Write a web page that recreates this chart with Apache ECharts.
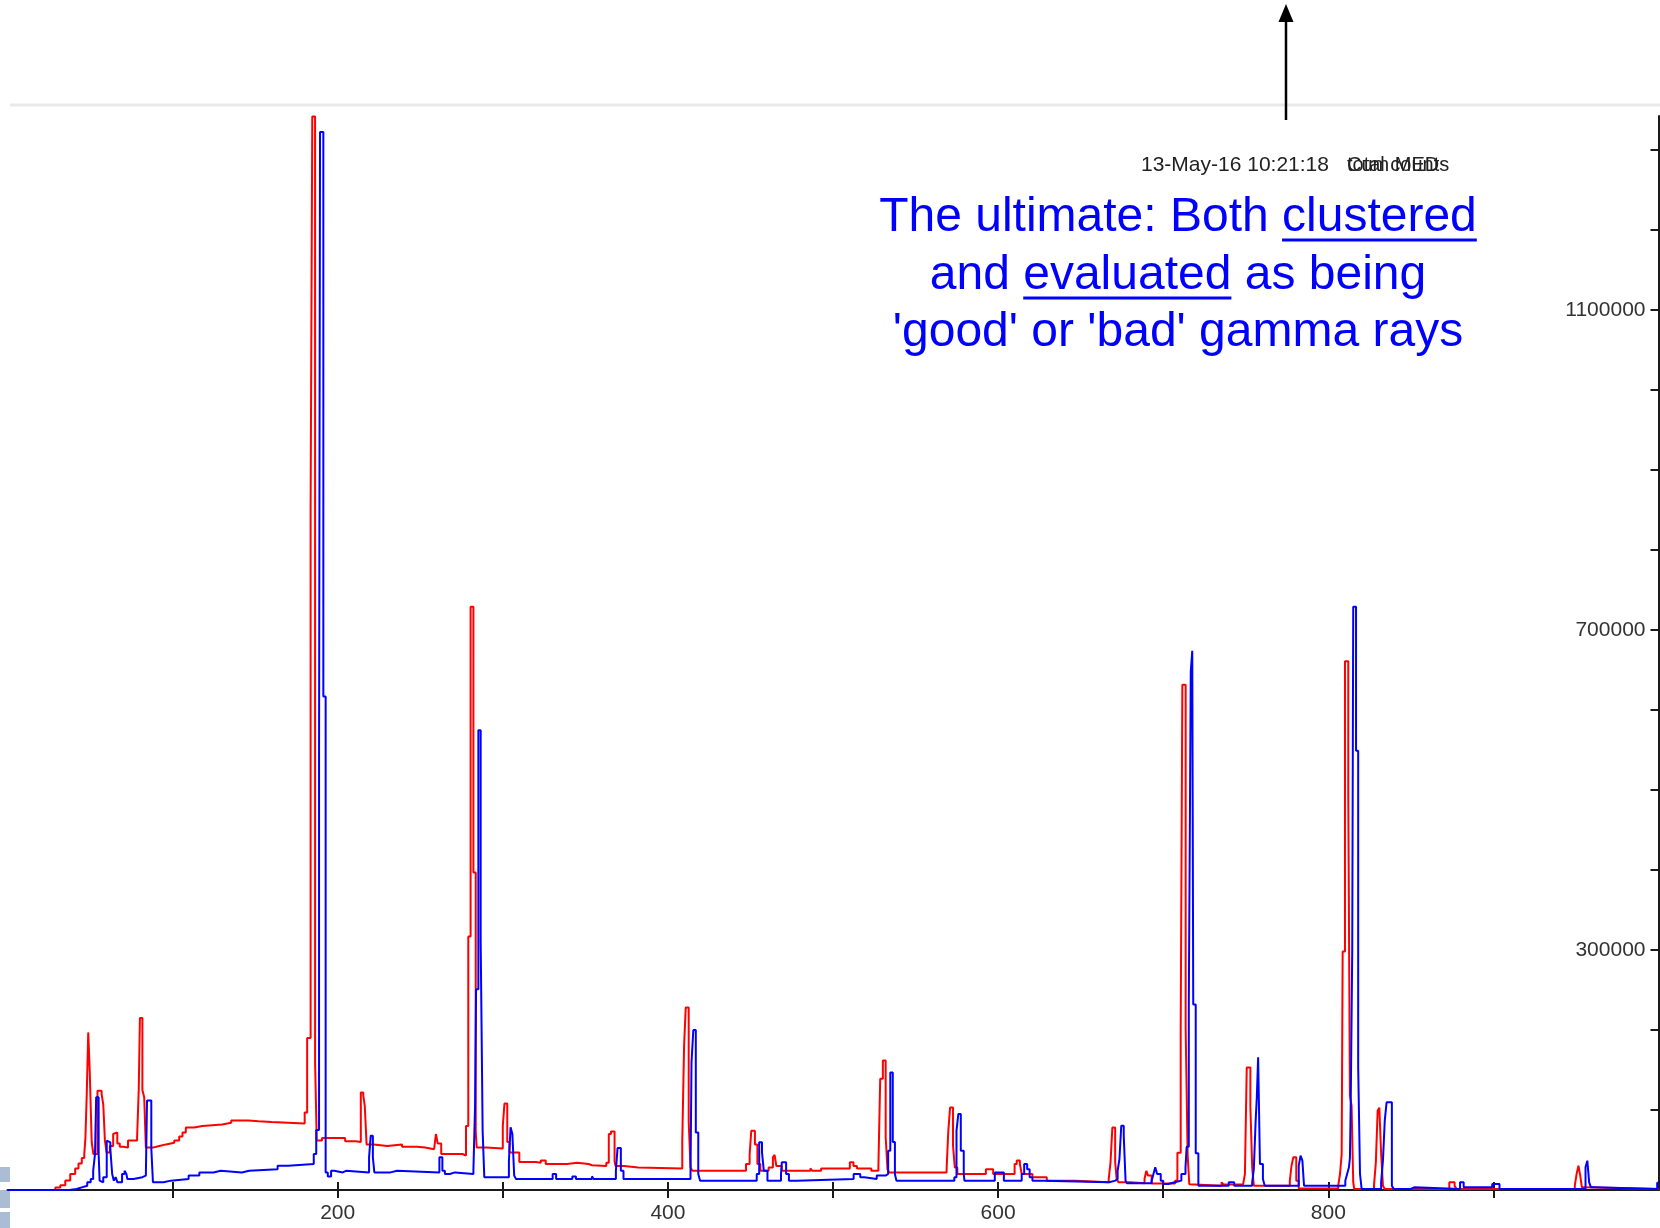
<!DOCTYPE html>
<html>
<head>
<meta charset="utf-8">
<script src="https://cdn.jsdelivr.net/npm/echarts@6/dist/echarts.min.js"></script>
<style>html,body{margin:0;padding:0;background:#fff;}#c{width:1660px;height:1228px;}</style>
</head>
<body>
<div id="c"></div>
<script>
// ---- data: [channel where level starts, counts] (stepped spectrum) ----
const redSpectrum = [[0,0],[29,3000],[32,6000],[35,12000],[38,20000],[41,27000],[43,33000],[45,40000],[46.5,45000],[47.2,65000],[48,120000],[48.9,197000],[49.8,149000],[51,60000],[52,45000],[54.5,124000],[57,120000],[58,107000],[59,62000],[60,47000],[62,55000],[64,70000],[65,72000],[66.5,58000],[68,54000],[70,53000],[73,62000],[78.5,66000],[79.5,126000],[80.2,215000],[81.7,125000],[82.8,116000],[83.8,53000],[88,55000],[92,57000],[96,59000],[101,62000],[104,67000],[106,72000],[108,78000],[113,80000],[118,82000],[130,84000],[135.5,87000],[146,86000],[152,85000],[160,83000],[180,97000],[181.5,190000],[183.6,855000],[184.6,1342000],[186.3,160000],[187.3,62000],[190.5,65000],[204.5,61000],[211,60000],[214,122000],[215.5,118000],[216.4,105000],[217.5,57000],[221.8,55000],[230,57000],[239,54000],[248,53000],[253,51000],[258.4,53000],[259.5,70000],[260.6,58000],[262.7,45000],[275.6,43000],[277.7,80000],[279.1,317000],[280.5,729000],[282.2,397000],[283.6,73000],[284.2,53000],[290,52000],[300,80000],[301,108000],[302.7,60000],[304,47000],[310,35000],[320,34000],[323,37000],[326,32500],[339,34000],[345,32500],[352,31000],[354,30000],[362.7,34000],[364.2,70000],[365.5,73000],[367.7,36000],[368.3,30000],[373.5,28000],[382,27000],[408.7,60000],[409.8,180000],[410.8,228000],[412.6,85000],[413.7,28000],[414.8,24000],[447.3,32500],[449.5,44000],[450.5,74000],[452.7,57000],[454.2,32500],[456,24000],[461,28000],[463.6,41000],[464.6,44000],[465.7,30000],[469,24000],[486.3,27000],[487.5,24000],[492.8,27000],[510.2,34600],[512.4,30000],[514.5,27000],[523.2,24000],[527.5,29000],[528.6,139000],[530.2,162000],[531.9,66000],[533,26000],[534,22000],[568.8,26000],[569.8,72000],[570.9,103000],[572.7,55000],[573.8,28000],[575.3,20000],[592.6,26000],[597,20000],[610,32500],[611.3,37000],[613.2,32500],[614.3,20000],[620.8,16000],[629.5,11700],[646.9,9600],[667,14000],[668.1,34600],[669.2,78000],[670.9,35000],[671.8,14000],[672.9,9600],[680,8300],[688.7,14000],[689.8,24000],[690.8,18000],[693,8000],[707.2,11700],[708.6,46600],[710.6,201500],[711.6,631600],[713.6,201500],[714.8,44300],[715.8,7300],[716.6,5400],[735.4,9600],[736.5,7000],[748.4,5400],[749.5,20000],[750.6,153000],[752.8,104000],[753.9,28000],[754.9,5400],[776.7,11700],[777.7,30000],[778.8,41000],[780.6,11700],[782.1,2000],[806,5400],[807.1,20000],[808.1,45000],[808.7,298000],[810.1,661000],[812.1,493000],[813.1,118000],[814.1,105000],[815.1,10000],[815.7,1250],[827.7,6000],[828.8,34600],[829.9,99000],[830.9,103000],[832,45000],[833.1,5400],[834.2,1250],[873.3,9600],[876.5,5400],[877.6,1250],[949.3,5400],[950.4,20000],[951.5,30400],[952.6,18000],[953.6,3300],[955,1250],[1000,1250]];

const blueSpectrum = [[0,0],[37.5,1250],[41.8,3300],[45,5400],[48.3,9600],[50.4,13750],[51.9,24000],[53,45000],[53.7,116000],[55.2,45000],[55.8,11700],[57,9600],[58,16000],[60.1,61700],[61.2,59600],[62.3,51000],[63.4,20000],[64.4,11700],[65.5,16000],[66.6,9600],[69.4,20000],[70.9,24000],[72,20000],[72.6,13750],[76.3,16000],[81.7,18000],[83.8,20000],[84.5,112000],[87.1,52000],[88.1,9600],[94.6,11700],[98.9,13750],[109.7,18000],[116.2,22000],[124.8,24000],[129.1,22000],[142,24000],[146.3,26000],[163.6,30400],[170,32500],[185.5,45000],[187,75000],[188.7,540000],[189.3,1322500],[191.3,617000],[192.7,22000],[194,17000],[196,24000],[198,22000],[203,24000],[205,22000],[219,40800],[220,67900],[221.3,40800],[222.2,22000],[232,24000],[236,22000],[261.6,40800],[263.4,24000],[264.9,20000],[268,22000],[271,20000],[282.2,25000],[283.2,105000],[283.8,251000],[285.2,574600],[286.6,310000],[287.8,73000],[288.8,16000],[303.7,36000],[304.7,78300],[305.8,70000],[306.9,18000],[308,13750],[330.2,20000],[332.3,13750],[342.1,17000],[344.3,13750],[354,17000],[355,13750],[368.5,24000],[369.5,52500],[371.5,24000],[373.1,13750],[413.7,20000],[414.3,159600],[415.4,200000],[416.9,72000],[418.4,20000],[419.5,11700],[453.8,20000],[455.3,59600],[457,47000],[458.1,24000],[460.3,11700],[468.5,20000],[469,34600],[471.6,20000],[473.3,11700],[478,13750],[512.5,20000],[516.5,16000],[519,13750],[526.5,18000],[531.9,20000],[533.4,49000],[534.7,147000],[536.2,60000],[537.5,20000],[538.4,11700],[573.5,16000],[574.8,74000],[575.9,95000],[577.4,49000],[579.2,20000],[579.6,11700],[598,22000],[603.5,11700],[614.3,20000],[615.8,32500],[617.6,26000],[619.1,16000],[620.8,11700],[627.3,9600],[667.3,11700],[671,13750],[672.4,24000],[673.5,38750],[674.6,80400],[676.1,68000],[677.2,11700],[678,8300],[693,11700],[694.1,20000],[695.2,28300],[696.3,20000],[698.5,11700],[700,7500],[703,9600],[707,11700],[711,20000],[713.5,28000],[714.2,54000],[715.5,232000],[716.7,648000],[717.6,674000],[718.2,232000],[719.7,46000],[721.3,5400],[739.7,9600],[743,5400],[753.9,9600],[754.9,26250],[756,86700],[756.7,115800],[757.5,165800],[758.6,32500],[760.4,13750],[761.5,5400],[782.1,30400],[783.2,42900],[784.3,36700],[785.3,5400],[810.3,11700],[811.4,20000],[812.5,28300],[813.1,40000],[813.6,110000],[814.5,300000],[815.1,729000],[816.8,549000],[818.1,154500],[819.2,20000],[820.2,1250],[832,9600],[833.1,36700],[834.2,86700],[835.3,109600],[838.5,5400],[839.6,1250],[850,3300],[852,1250],[879.8,9600],[882,3300],[899.3,7500],[903.7,1250],[955.8,28300],[956.9,36700],[958,9600],[959.1,3300],[961,1250],[999.2,9000],[1000,9000]];

const xTickValues = [100,200,300,400,500,600,700,800,900];
const xLabelValues = [200,400,600,800];
const yTickValues = [100000,200000,300000,400000,500000,600000,700000,800000,900000,1000000,1100000,1200000,1300000];
const yLabelValues = [300000,700000,1100000];
const xRange = [0, 1000];
const yRange = [0, 1342500];

const stampText = '13-May-16 10:21:18';
const stampOverlay = ['total counts', 'Cum MED'];
const noteLines = ['The ultimate: Both clustered', 'and evaluated as being', "'good' or 'bad' gamma rays"];
const noteUnderlined = [['The ultimate: Both ', 'clustered'], ['and ', 'evaluated'], null];

// ---- chart ----
const chart = echarts.init(document.getElementById('c'), null, {renderer: 'canvas'});
const AXIS = '#1a1a1a';
const LBL = '#333';
const FONT = '"Liberation Sans", Arial, sans-serif';
const gridBox = {left: 7.5, right: 1.5, top: 116, bottom: 38};

const noteFont = 48;
const noteCx = 1178;
const noteY = [218, 276, 333];
const mctx = document.createElement('canvas').getContext('2d');
mctx.font = noteFont + 'px ' + FONT;
const graphics = [];
noteLines.forEach((t, i) => {
  graphics.push({type: 'text', x: noteCx, y: noteY[i], z: 10,
    style: {text: t, font: noteFont + 'px ' + FONT, fill: '#0000ff', align: 'center', verticalAlign: 'middle'}});
  const u = noteUnderlined[i];
  if (u) {
    const full = mctx.measureText(t).width;
    const x0 = noteCx - full / 2 + mctx.measureText(u[0]).width;
    const x1 = x0 + mctx.measureText(u[1]).width;
    graphics.push({type: 'line', z: 10, shape: {x1: x0, y1: noteY[i] + 22, x2: x1, y2: noteY[i] + 22},
      style: {stroke: '#0000ff', lineWidth: 3}});
  }
});
// top separator and arrow
graphics.push({type: 'line', z: 1, shape: {x1: 10, y1: 105, x2: 1660, y2: 105}, style: {stroke: '#e9e9e9', lineWidth: 3}});
graphics.push({type: 'line', z: 10, shape: {x1: 1286, y1: 120, x2: 1286, y2: 18}, style: {stroke: '#000', lineWidth: 2.5}});
graphics.push({type: 'polygon', z: 10, shape: {points: [[1286, 4], [1278.5, 22], [1293.5, 22]]}, style: {fill: '#000'}});
// timestamp (overlapping strings)
graphics.push({type: 'text', x: 1141, y: 165, z: 10, style: {text: stampText, font: '21px ' + FONT, fill: '#222', verticalAlign: 'middle'}});
stampOverlay.forEach(s => graphics.push({type: 'text', x: 1347, y: 165, z: 10,
  style: {text: s, font: '20px ' + FONT, fill: '#222', verticalAlign: 'middle'}}));
// slide edge decoration bottom-left
[[1167, 15], [1190, 18], [1212, 16]].forEach(b => graphics.push({type: 'rect', z: 0,
  shape: {x: 0, y: b[0], width: 10, height: b[1]}, style: {fill: '#aabdd4'}}));

const plain = v => String(v);
const option = {
  animation: false,
  backgroundColor: '#ffffff',
  grid: [Object.assign({}, gridBox), Object.assign({}, gridBox)],
  xAxis: [
    {type: 'value', gridIndex: 0, min: xRange[0], max: xRange[1], interval: 100,
     axisLine: {show: true, onZero: false, lineStyle: {color: AXIS, width: 2}},
     axisTick: {show: true, inside: false, length: 8, customValues: xTickValues, lineStyle: {color: AXIS, width: 2}},
     axisLabel: {show: true, customValues: xLabelValues, formatter: plain, margin: 13, color: LBL, fontSize: 21, fontFamily: FONT},
     splitLine: {show: false}},
    {type: 'value', gridIndex: 1, min: xRange[0], max: xRange[1], interval: 100, position: 'bottom',
     axisLine: {show: false, onZero: false},
     axisTick: {show: true, inside: true, length: 8, customValues: xTickValues, lineStyle: {color: AXIS, width: 2}},
     axisLabel: {show: false}, splitLine: {show: false}}
  ],
  yAxis: [
    {type: 'value', gridIndex: 0, position: 'right', min: yRange[0], max: yRange[1], interval: 100000,
     axisLine: {show: true, onZero: false, lineStyle: {color: AXIS, width: 2}},
     axisTick: {show: true, inside: true, length: 8, customValues: yTickValues, lineStyle: {color: AXIS, width: 2}},
     axisLabel: {show: true, inside: true, customValues: yLabelValues, formatter: plain, margin: 13, color: LBL, fontSize: 21, fontFamily: FONT},
     splitLine: {show: false}},
    {type: 'value', gridIndex: 1, min: 0, max: 1, show: false}
  ],
  series: [
    {name: 'red', type: 'line', xAxisIndex: 0, yAxisIndex: 0, step: 'end', data: redSpectrum,
     showSymbol: false, symbol: 'none', clip: false, z: 3,
     lineStyle: {color: '#ff0000', width: 2}},
    {name: 'blue', type: 'line', xAxisIndex: 0, yAxisIndex: 0, step: 'end', data: blueSpectrum,
     showSymbol: false, symbol: 'none', clip: false, z: 4,
     lineStyle: {color: '#0000ff', width: 2}}
  ],
  graphic: graphics
};
chart.setOption(option);
</script>
</body>
</html>
